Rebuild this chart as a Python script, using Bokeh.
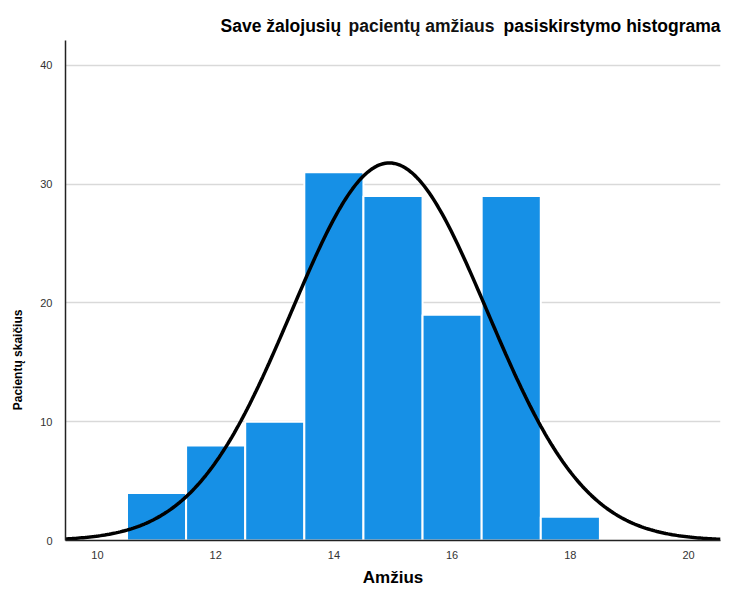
import numpy as np
from bokeh.plotting import figure
from bokeh.models import Range1d, FixedTicker
from bokeh.layouts import column, row
from bokeh.core.properties import value
from bokeh.embed import file_html
from bokeh.resources import INLINE

ages = [11, 12, 13, 14, 15, 16, 17, 18]
counts = [4, 8, 10, 31, 29, 19, 29, 2]
x_ticks = [10, 12, 14, 16, 18, 20]
y_ticks = [0, 10, 20, 30, 40]
title_parts = ["Save žalojusių", "pacientų amžiaus", "pasiskirstymo histograma"]
x_label = "Amžius"
y_label = "Pacientų skaičius"

a = np.array(ages, dtype=float)
c = np.array(counts, dtype=float)
n = c.sum()
mean = (a * c).sum() / n
sd = np.sqrt((c * (a - mean) ** 2).sum() / (n - 1))
xs = np.linspace(9.46, 20.54, 300)
ys = n * 1.0 / (sd * np.sqrt(2 * np.pi)) * np.exp(-0.5 * ((xs - mean) / sd) ** 2)

W, H = 721, 589
TOP_H = 40
LEFT_W = 37

FONT = "Liberation Sans"


def blank(width, height, xr, yr):
    f = figure(width=width, height=height, output_backend="svg", toolbar_location=None,
               x_range=Range1d(*xr), y_range=Range1d(*yr), x_axis_type=None, y_axis_type=None,
               min_border=0, min_border_left=0, min_border_right=0, min_border_top=0,
               min_border_bottom=0)
    f.outline_line_color = None
    f.grid.visible = False
    return f


# title strip (pixel coordinates, y measured upward from the strip bottom)
tp = blank(W, TOP_H, (0, W), (0, TOP_H))
tp.text(x=[220], y=[TOP_H - 25], text=[title_parts[0]], text_align="left", text_baseline="middle",
        text_font=value(FONT), text_font_size="17.5px", text_font_style="bold", text_color="black")
tp.text(x=[348], y=[TOP_H - 25], text=[title_parts[1]], text_align="left", text_baseline="middle",
        text_font=value(FONT), text_font_size="17.5px", text_font_style="bold", text_color="#111111")
tp.text(x=[720], y=[TOP_H - 25], text=[title_parts[2]], text_align="right", text_baseline="middle",
        text_font=value(FONT), text_font_size="17.5px", text_font_style="bold", text_color="black")

# y axis label strip
BODY_H = H - TOP_H
lp = blank(LEFT_W, BODY_H, (0, LEFT_W), (0, BODY_H))
lp.text(x=[17], y=[143], text=[y_label], text_align="left", text_baseline="middle",
        angle=np.pi / 2, text_font=value(FONT), text_font_size="12px", text_font_style="bold",
        text_color="black")

# main histogram
p = figure(width=W - LEFT_W, height=BODY_H, output_backend="svg", toolbar_location=None,
           x_range=Range1d(9.46, 20.54), y_range=Range1d(0, 42.1),
           min_border_left=65 - LEFT_W, min_border_right=1, min_border_bottom=48, min_border_top=0)

p.quad(left=a - 0.5, right=a + 0.5, bottom=0, top=c, fill_color="#1690e6",
       line_color="white", line_width=2)
p.line(xs, ys, line_color="black", line_width=3.5)

p.outline_line_color = None
p.xgrid.grid_line_color = None
p.ygrid.grid_line_color = "#d9d9d9"
p.ygrid.grid_line_width = 1.5

p.xaxis.ticker = FixedTicker(ticks=x_ticks)
p.yaxis.ticker = FixedTicker(ticks=y_ticks)
for ax in (p.xaxis[0], p.yaxis[0]):
    ax.major_tick_line_color = None
    ax.minor_tick_line_color = None
    ax.major_label_text_font = FONT
    ax.major_label_text_font_size = "11px"
    ax.major_label_text_color = "#333333"
    ax.axis_line_color = "#222222"
    ax.axis_line_width = 1.5
    ax.axis_label_text_font = FONT
    ax.axis_label_text_font_style = "bold"
    ax.axis_label_text_color = "#000000"

p.xaxis.axis_label = x_label
p.xaxis.axis_label_text_font_size = "17px"
p.xaxis.major_label_standoff = 4
p.xaxis.axis_label_standoff = 6
p.yaxis.major_label_standoff = 7

layout = column(tp, row(lp, p))
open("out.html", "w").write(file_html(layout, INLINE))
